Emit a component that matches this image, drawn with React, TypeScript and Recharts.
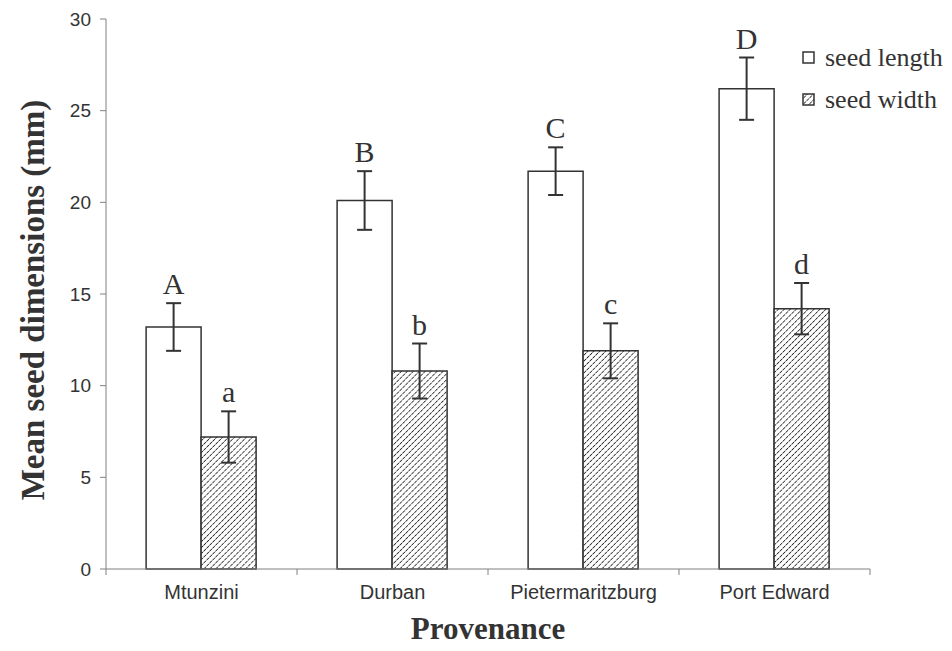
import React from 'react';
import { BarChart, Bar, XAxis, YAxis, ErrorBar, LabelList, Legend } from 'recharts';

const provenances = ['Mtunzini', 'Durban', 'Pietermaritzburg', 'Port Edward'];
const seedLength = [13.2, 20.1, 21.7, 26.2];
const seedLengthErr = [1.3, 1.6, 1.3, 1.7];
const seedWidth = [7.2, 10.8, 11.9, 14.2];
const seedWidthErr = [1.4, 1.5, 1.5, 1.4];
const lengthLetters = ['A', 'B', 'C', 'D'];
const widthLetters = ['a', 'b', 'c', 'd'];
const yTicks = [0, 5, 10, 15, 20, 25, 30];

const data = provenances.map((p, i) => ({
  provenance: p,
  length: seedLength[i],
  lengthErr: seedLengthErr[i],
  width: seedWidth[i],
  widthErr: seedWidthErr[i],
  lengthLetter: lengthLetters[i],
  widthLetter: widthLetters[i],
}));

const W = 952;
const H = 651;
const MARGIN = { top: 19, right: 82, bottom: 0, left: 0 };
const Y_AXIS_W = 106;
const X_AXIS_H = 82;
const PLOT_W = W - MARGIN.right - Y_AXIS_W;
const BAND = PLOT_W / provenances.length;
const AXIS_COLOR = '#808080';
const INK = '#333333';
const SERIF = '"Liberation Serif", "Times New Roman", serif';
const SANS = '"Liberation Sans", Arial, sans-serif';

function XTick(props: any) {
  const { x, payload, index } = props;
  const axisY = H - X_AXIS_H;
  const left = x - BAND / 2;
  const right = x + BAND / 2;
  return (
    <g>
      <line x1={left} y1={axisY} x2={left} y2={axisY + 6} stroke={AXIS_COLOR} strokeWidth={1} />
      {index === provenances.length - 1 && (
        <line x1={right} y1={axisY} x2={right} y2={axisY + 6} stroke={AXIS_COLOR} strokeWidth={1} />
      )}
      <text x={x} y={axisY + 30} textAnchor="middle" fontFamily={SANS} fontSize={20} fill={INK}>
        {payload.value}
      </text>
    </g>
  );
}

function YTick(props: any) {
  const { x, y, payload } = props;
  return (
    <text x={x} y={y} dx={-7} dy={6.5} textAnchor="end" fontFamily={SANS} fontSize={19} fill={INK}>
      {payload.value}
    </text>
  );
}

function makeLetter(values: number[], errs: number[]) {
  return (props: any) => {
    const { x, y, width, height, value, index } = props;
    const v = values[index];
    const pxPerUnit = height / v;
    const errTop = y - errs[index] * pxPerUnit;
    return (
      <text x={x + width / 2} y={errTop - 9} textAnchor="middle" fontFamily={SERIF} fontSize={30} fill={INK}>
        {value}
      </text>
    );
  };
}

function LegendContent() {
  const items = [
    { label: 'seed length', fill: '#ffffff' },
    { label: 'seed width', fill: 'url(#hatch)' },
  ];
  return (
    <div style={{ display: 'flex', flexDirection: 'column', gap: 12 }}>
      {items.map((it) => (
        <div key={it.label} style={{ display: 'flex', alignItems: 'center', height: 30 }}>
          <svg width={14} height={14} style={{ marginRight: 9 }}>
            <rect x={1} y={1} width={11} height={11} fill={it.fill} stroke={INK} strokeWidth={1.5} />
          </svg>
          <span style={{ fontFamily: SERIF, fontSize: 26, color: INK, whiteSpace: 'nowrap' }}>{it.label}</span>
        </div>
      ))}
    </div>
  );
}

export default function App() {
  return (
    <div style={{ position: 'absolute', left: 0, top: 0, width: W, height: H, background: '#fff' }}>
      <BarChart width={W} height={H} data={data} margin={MARGIN} barCategoryGap="21%" barGap={0}>
        <defs>
          <pattern id="hatch" width="4.2" height="4.2" patternUnits="userSpaceOnUse" patternTransform="rotate(45)">
            <rect width="4.2" height="4.2" fill="#ffffff" />
            <line x1="0" y1="0" x2="0" y2="4.2" stroke="#2a2a2a" strokeWidth={1.7} strokeDasharray="2.4 0.7" />
          </pattern>
        </defs>
        <XAxis
          dataKey="provenance"
          height={X_AXIS_H}
          stroke={AXIS_COLOR}
          tickLine={false}
          tick={<XTick />}
          interval={0}
          label={{
            content: (p: any) => {
              const vb = p.viewBox;
              return (
                <text x={vb.x + vb.width / 2} y={vb.y + 70} textAnchor="middle" fontFamily={SERIF} fontWeight="bold" fontSize={31} fill={INK}>
                  Provenance
                </text>
              );
            },
          }}
        />
        <YAxis
          width={Y_AXIS_W}
          domain={[0, 30]}
          ticks={yTicks}
          interval={0}
          stroke={AXIS_COLOR}
          tickSize={6}
          tickLine={{ stroke: AXIS_COLOR }}
          tick={<YTick />}
          label={{
            content: (p: any) => {
              const vb = p.viewBox;
              const cx = 33;
              const cy = vb.y + vb.height / 2 + 6;
              return (
                <text x={cx} y={cy} transform={`rotate(-90, ${cx}, ${cy})`} textAnchor="middle" dominantBaseline="central" fontFamily={SERIF} fontWeight="bold" fontSize={33} fill={INK}>
                  Mean seed dimensions (mm)
                </text>
              );
            },
          }}
        />
        <Legend
          layout="horizontal"
          verticalAlign="middle"
          align="center"
          content={<LegendContent />}
          wrapperStyle={{ position: 'absolute', left: 802, top: 43, width: 150 }}
        />
        <Bar dataKey="length" name="seed length" fill="#ffffff" stroke={INK} strokeWidth={1.5} isAnimationActive={false}>
          <ErrorBar dataKey="lengthErr" width={7.5} stroke={INK} strokeWidth={2} direction="y" />
          <LabelList dataKey="lengthLetter" content={makeLetter(seedLength, seedLengthErr)} />
        </Bar>
        <Bar dataKey="width" name="seed width" fill="url(#hatch)" stroke={INK} strokeWidth={1.5} isAnimationActive={false}>
          <ErrorBar dataKey="widthErr" width={7.5} stroke={INK} strokeWidth={2} direction="y" />
          <LabelList dataKey="widthLetter" content={makeLetter(seedWidth, seedWidthErr)} />
        </Bar>
      </BarChart>
    </div>
  );
}
